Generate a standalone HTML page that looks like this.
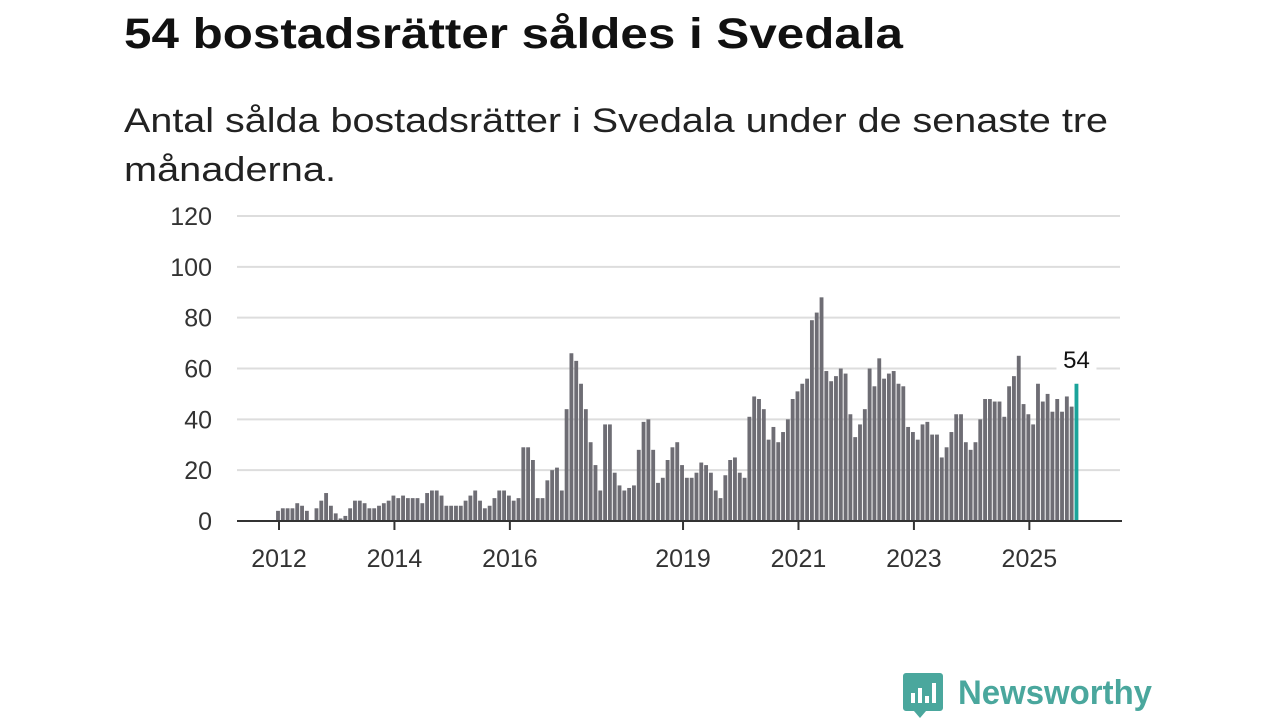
<!DOCTYPE html>
<html><head><meta charset="utf-8"><style>
html,body{margin:0;padding:0;background:#fff;width:1280px;height:720px;overflow:hidden;font-family:"Liberation Sans",sans-serif}
</style></head><body>
<svg id="chart" width="1280" height="720" xmlns="http://www.w3.org/2000/svg" font-family="Liberation Sans, sans-serif">
<text x="124" y="48" font-size="43" font-weight="bold" fill="#111" textLength="779" lengthAdjust="spacingAndGlyphs">54 bostadsrätter såldes i Svedala</text>
<text x="124" y="132" font-size="34" fill="#222" textLength="984" lengthAdjust="spacingAndGlyphs">Antal sålda bostadsrätter i Svedala under de senaste tre</text>
<text x="124" y="181" font-size="34" fill="#222" textLength="212" lengthAdjust="spacingAndGlyphs">månaderna.</text>
<g id="grid"></g><g id="bars"></g><g id="axes"></g>
<g>
<path d="M906 673 h34 a3 3 0 0 1 3 3 v32 a3 3 0 0 1 -3 3 h-14 l-6 7 l-6 -7 h-8 a3 3 0 0 1 -3 -3 v-32 a3 3 0 0 1 3 -3z" fill="#4aa79d"/>
<rect x="911" y="693" width="4" height="10" fill="#fff"/><rect x="918" y="688" width="4" height="15" fill="#fff"/><rect x="925" y="696" width="4" height="7" fill="#fff"/><rect x="932" y="683" width="4" height="20" fill="#fff"/>
<text x="958" y="704" font-size="34" font-weight="bold" fill="#4aa79d" textLength="194" lengthAdjust="spacingAndGlyphs">Newsworthy</text>
</g>
</svg>
<script>
const values = [4,5,5,5,7,6,4,0,5,8,11,6,3,1,2,5,8,8,7,5,5,6,7,8,10,9,10,9,9,9,7,11,12,12,10,6,6,6,6,8,10,12,8,5,6,9,12,12,10,8,9,29,29,24,9,9,16,20,21,12,44,66,63,54,44,31,22,12,38,38,19,14,12,13,14,28,39,40,28,15,17,24,29,31,22,17,17,19,23,22,19,12,9,18,24,25,19,17,41,49,48,44,32,37,31,35,40,48,51,54,56,79,82,88,59,55,57,60,58,42,33,38,44,60,53,64,56,58,59,54,53,37,35,32,38,39,34,34,25,29,35,42,42,31,28,31,40,48,48,47,47,41,53,57,65,46,42,38,54,47,50,43,48,43,49,45,54];
const startYear = 2012;
const yTicks = [0,20,40,60,80,100,120];
const xTickYears = [2012,2014,2016,2019,2021,2023,2025];
const NS="http://www.w3.org/2000/svg";
const x0=279, pxPerYear=57.72, y0=521, pxPerUnit=305/120;
function xs(t){return x0+(t-2012)*pxPerYear;}
function ys(v){return y0-v*pxPerUnit;}
function mk(tag,attrs,parent){const e=document.createElementNS(NS,tag);for(const k in attrs)e.setAttribute(k,attrs[k]);parent.appendChild(e);return e;}
const grid=document.getElementById('grid'),bars=document.getElementById('bars'),axes=document.getElementById('axes');
yTicks.forEach(v=>{
  if(v>0){const l=mk('line',{x1:237,x2:1120,y1:ys(v),y2:ys(v),stroke:'#dddddd','stroke-width':2},grid);
  
  }
  const t=mk('text',{x:212,y:ys(v)+9,'font-size':25,'text-anchor':'end',fill:'#333'},axes);
  t.textContent=v;
  
  
});
const bw=pxPerYear/12;
values.forEach((v,i)=>{
  const last=i===values.length-1;
  const cx=xs(startYear+i/12)-1;
  const r=mk('rect',{x:cx-bw*0.4,y:ys(v),width:bw*0.8,height:v*pxPerUnit,fill:last?'#1aa39a':'#6e6d74'},bars);
  
  
  if(last){
    const bg=mk('rect',{x:cx-20,y:ys(v)-40,width:40,height:28,fill:'#fff'},bars);
    
    
    const t=mk('text',{x:cx,y:ys(v)-16,'font-size':24,'text-anchor':'middle',fill:'#111'},bars);
    t.textContent=v;
    
    
  }
});
const ax=mk('line',{x1:237,x2:1122,y1:y0,y2:y0,stroke:'#333','stroke-width':2},axes);


xTickYears.forEach(yr=>{
  const x=xs(yr);
  const tk=mk('line',{x1:x,x2:x,y1:y0,y2:y0+9,stroke:'#333','stroke-width':2},axes);
  
  
  const t=mk('text',{x:x,y:567,'font-size':25,'text-anchor':'middle',fill:'#333'},axes);
  t.textContent=yr;
  
  
});
</script>
</body></html>
